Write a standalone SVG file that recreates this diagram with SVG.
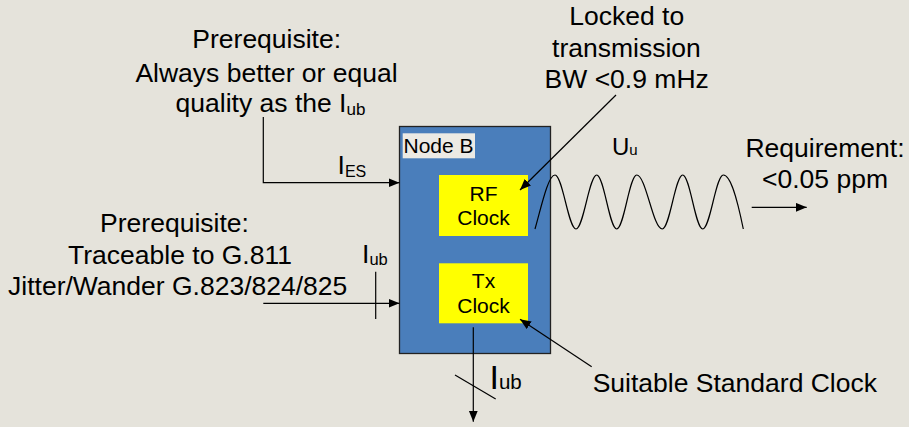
<svg xmlns="http://www.w3.org/2000/svg" width="909" height="427" viewBox="0 0 909 427">
<style>
text{font-family:"Liberation Sans",Arial,sans-serif;fill:#000}
.big{font-size:26.5px}
.mid{font-size:21px}
.ln{stroke:#000;stroke-width:1.2;fill:none}
.arr{marker-end:url(#ah)}
</style>
<defs>
<marker id="ah" markerUnits="userSpaceOnUse" markerWidth="12" markerHeight="10" refX="11" refY="4.5" orient="auto">
<path d="M0,0 L11,4.5 L0,9 Z" fill="#000"/>
</marker>
</defs>
<rect x="0" y="0" width="909" height="427" fill="#E5E3DB"/>

<g id="node-b">
<rect x="399.5" y="126.5" width="151" height="227" fill="#4A7EBB" stroke="#222" stroke-width="1.3"/>
<rect x="402.7" y="133.3" width="72.3" height="25" fill="#ECEAE4"/>
<text class="mid" x="403.5" y="153.3">Node B</text>
</g>

<g id="rf-clock">
<rect x="439" y="175" width="89" height="61" fill="#FFFF00"/>
<text class="mid" x="483.5" y="201" text-anchor="middle">RF</text>
<text class="mid" x="483.5" y="225" text-anchor="middle">Clock</text>
</g>

<g id="tx-clock">
<rect x="439" y="263.3" width="89" height="60" fill="#FFFF00"/>
<text class="mid" x="483.5" y="288.3" text-anchor="middle">Tx</text>
<text class="mid" x="483.5" y="312.7" text-anchor="middle">Clock</text>
</g>

<g id="prereq-top">
<text class="big" x="266.7" y="48.3" text-anchor="middle">Prerequisite:</text>
<text class="big" x="266.5" y="81.7" text-anchor="middle">Always better or equal</text>
<text class="big" x="270.5" y="111.7" text-anchor="middle">quality as the I<tspan font-size="17" dy="3">ub</tspan></text>
</g>

<g id="prereq-left">
<text class="big" x="174.5" y="231.7" text-anchor="middle">Prerequisite:</text>
<text class="big" x="180" y="264.3" text-anchor="middle">Traceable to G.811</text>
<text class="big" x="177.7" y="295" text-anchor="middle">Jitter/Wander G.823/824/825</text>
</g>

<g id="locked">
<text class="big" x="626.7" y="25" text-anchor="middle">Locked to</text>
<text class="big" x="626.4" y="56.7" text-anchor="middle">transmission</text>
<text class="big" x="626.7" y="88.3" text-anchor="middle">BW &lt;0.9 mHz</text>
</g>

<g id="requirement">
<text class="big" x="825" y="156.6" text-anchor="middle">Requirement:</text>
<text class="big" x="825" y="188.3" text-anchor="middle">&lt;0.05 ppm</text>
</g>

<g id="suitable">
<text class="big" x="592.7" y="391.7">Suitable Standard Clock</text>
</g>

<g id="labels">
<text class="big" x="337.5" y="174.3">I<tspan font-size="16" dy="2.5">ES</tspan></text>
<text class="big" x="362" y="263.3">I<tspan font-size="16.5" dy="2">ub</tspan></text>
<text font-size="34" x="489.5" y="389.3">I<tspan font-size="20.5" dy="0">ub</tspan></text>
<text font-size="24" x="612" y="155">U<tspan font-size="15" dy="0">u</tspan></text>
</g>

<g id="connectors">
<path class="ln arr" d="M263.3,117 V182.7 H399.5"/>
<path class="ln arr" d="M263.3,303.3 H399.5"/>
<path class="ln" d="M375.7,271.7 V319"/>
<path class="ln arr" d="M473.3,327.3 V421.7"/>
<path class="ln" d="M455,375 L495.7,399"/>
<path class="ln arr" d="M751.7,207.3 H806.7"/>
<path class="ln arr" d="M616,95 L520,190"/>
<path class="ln arr" d="M591.7,366.7 L520,319.3"/>
<path class="ln" d="M535,229 C541,208 548,175 555,175 C562.6,175 568.4,229 576,229 C583.5,229 589.2,175 596.7,175 C604,175 609.4,229 616.7,229 C624,229 629.4,175 636.7,175 C646,175 653,229 662.3,229 C669.7,229 675.3,175 682.7,175 C690,175 695.4,229 702.7,229 C710.2,229 715.8,175 723.3,175 C730.6,175 737,198 743.3,229"/>
</g>
</svg>
